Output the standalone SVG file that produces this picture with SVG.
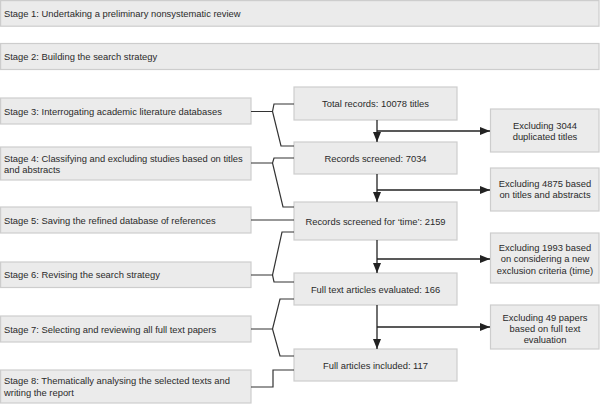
<svg xmlns="http://www.w3.org/2000/svg" width="600" height="404" viewBox="0 0 600 404">
<defs>
<marker id="ah" viewBox="0 0 10 8" refX="10" refY="4" markerWidth="10" markerHeight="8" markerUnits="userSpaceOnUse" orient="auto">
<path d="M0,0 L10,4 L0,8 Z" fill="#222"/>
</marker>
<style>
.box{fill:#ebebeb;stroke:#cdcdcd;stroke-width:1.2}
.t{font-family:"Liberation Sans",Arial,sans-serif;font-size:9.4px;fill:#2a2a2a}
.c{text-anchor:middle}
.ln{fill:none;stroke:#333;stroke-width:1.2}
.ar{fill:none;stroke:#222;stroke-width:1.3}
</style>
</defs>
<rect width="600" height="404" fill="#fff"/>
<g id="stage1"><rect class="box" x="0.6" y="0.6" width="598.4" height="25.6"/><text class="t" x="4" y="17">Stage 1: Undertaking a preliminary nonsystematic review</text></g>
<g id="stage2"><rect class="box" x="0.6" y="43.5" width="598.4" height="26"/><text class="t" x="4" y="60">Stage 2: Building the search strategy</text></g>
<g id="stage3"><rect class="box" x="0.6" y="98" width="250.4" height="26"/><text class="t" x="4" y="114.5">Stage 3: Interrogating academic literature databases</text></g>
<g id="stage4"><rect class="box" x="0.6" y="147" width="250.4" height="33"/><text class="t" x="4" y="161.5">Stage 4: Classifying and excluding studies based on titles</text><text class="t" x="4" y="172.5">and abstracts</text></g>
<g id="stage5"><rect class="box" x="0.6" y="207" width="250.4" height="26"/><text class="t" x="4" y="223.5">Stage 5: Saving the refined database of references</text></g>
<g id="stage6"><rect class="box" x="0.6" y="262" width="250.4" height="25.5"/><text class="t" x="4" y="278">Stage 6: Revising the search strategy</text></g>
<g id="stage7"><rect class="box" x="0.6" y="316" width="250.4" height="26"/><text class="t" x="4" y="332.5">Stage 7: Selecting and reviewing all full text papers</text></g>
<g id="stage8"><rect class="box" x="0.6" y="370" width="250.4" height="33"/><text class="t" x="4" y="384">Stage 8: Thematically analysing the selected texts and</text><text class="t" x="4" y="395.5">writing the report</text></g>

<g id="total"><rect class="box" x="294" y="87" width="163" height="33"/><text class="t c" x="375.5" y="107">Total records: 10078 titles</text></g>
<g id="screened"><rect class="box" x="294" y="142" width="163" height="32"/><text class="t c" x="375.5" y="161.5">Records screened: 7034</text></g>
<g id="screenedtime"><rect class="box" x="294" y="202" width="163" height="38"/><text class="t c" x="375.5" y="224.5">Records screened for ‘time’: 2159</text></g>
<g id="fulltext"><rect class="box" x="294" y="273" width="163" height="32"/><text class="t c" x="375.5" y="292.5">Full text articles evaluated: 166</text></g>
<g id="included"><rect class="box" x="294" y="349" width="163" height="32"/><text class="t c" x="375.5" y="368.5">Full articles included: 117</text></g>

<g id="ex1"><rect class="box" x="490.5" y="109" width="108.5" height="43"/><text class="t c" x="545" y="128.5">Excluding 3044</text><text class="t c" x="545" y="139.5">duplicated titles</text></g>
<g id="ex2"><rect class="box" x="490.5" y="168" width="108.5" height="43"/><text class="t c" x="545" y="186.5">Excluding 4875 based</text><text class="t c" x="545" y="198">on titles and abstracts</text></g>
<g id="ex3"><rect class="box" x="490.5" y="233" width="108.5" height="50"/><text class="t c" x="545" y="250.5">Excluding 1993 based</text><text class="t c" x="545" y="262">on considering a new</text><text class="t c" x="545" y="273.5">exclusion criteria (time)</text></g>
<g id="ex4"><rect class="box" x="490.5" y="305" width="108.5" height="44"/><text class="t c" x="545" y="320.5">Excluding 49 papers</text><text class="t c" x="545" y="332">based on full text</text><text class="t c" x="545" y="343">evaluation</text></g>

<g id="connectors">
<path class="ln" d="M251,111.5 H272.5 M294,104 H274 L272.5,111.5 L281,146 H294"/>
<path class="ln" d="M251,163 H272.5 M294,158 H274 L272.5,163 L283,207 H294"/>
<path class="ln" d="M251,220 H294"/>
<path class="ln" d="M251,275 H272.5 M294,232 H282 L272.5,275 L274,282 H294"/>
<path class="ln" d="M251,329 H272.5 M294,299 H280 L272.5,329 L280,356 H294"/>
<path class="ln" d="M251,387 H273 V370 H294"/>
<path class="ar" d="M377,120 V142" marker-end="url(#ah)"/>
<path class="ar" d="M377,131 H490" marker-end="url(#ah)"/>
<path class="ar" d="M377,174 V202" marker-end="url(#ah)"/>
<path class="ar" d="M377,190 H490" marker-end="url(#ah)"/>
<path class="ar" d="M377,240 V273" marker-end="url(#ah)"/>
<path class="ar" d="M377,259 H490" marker-end="url(#ah)"/>
<path class="ar" d="M377,305 V349" marker-end="url(#ah)"/>
<path class="ar" d="M377,327 H490" marker-end="url(#ah)"/>
</g>
</svg>
